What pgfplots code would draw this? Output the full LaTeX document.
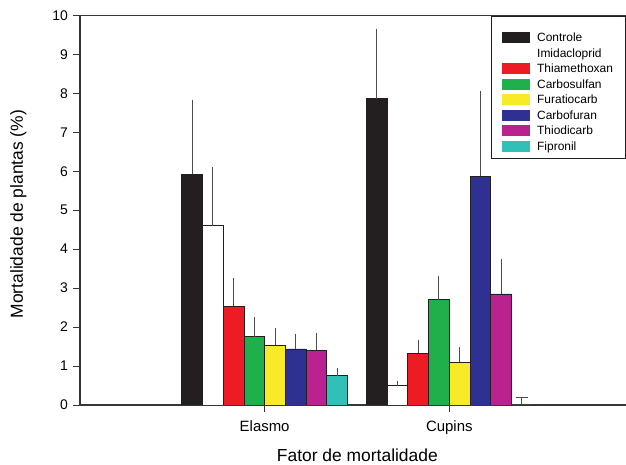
\documentclass[border=0pt]{standalone}
\usepackage{fontspec}
\setmainfont{Liberation Sans}
\usepackage{pgfplots}
\pgfplotsset{compat=1.18}
\definecolor{cblack}{HTML}{231F20}
\definecolor{cred}{HTML}{ED1C24}
\definecolor{cgreen}{HTML}{20B04B}
\definecolor{cyellow}{HTML}{F8EA27}
\definecolor{cblue}{HTML}{2E3192}
\definecolor{cmag}{HTML}{B9228F}
\definecolor{cteal}{HTML}{30C0B7}
\begin{document}
\begin{tikzpicture}
\path[use as bounding box] (0,0) rectangle (626bp,465bp);
\begin{axis}[
  at={(80bp,60bp)}, anchor=south west,
  width=546bp, height=389.5bp, scale only axis,
  xmin=0, xmax=2.957, ymin=0, ymax=10,
  axis x line=box, axis y line=left,
  axis line style={-, line width=1.3bp, color=cblack!90},
  xtick={1,2}, xticklabels={Elasmo,Cupins},
  ytick={0,1,...,10},
  xtick pos=left, ytick pos=left,
  tick align=outside, major tick length=7bp,
  tick style={line width=0.8bp, color=cblack!90},
  minor tick num=0,
  /pgf/number format/assume math mode=true,
  yticklabel style={font=\fontsize{14}{16}\selectfont, inner sep=0pt, xshift=-5bp},
  xticklabel style={font=\fontsize{15}{17}\selectfont, inner sep=0pt, yshift=-8bp},
  xlabel={Fator de mortalidade},
  ylabel={Mortalidade de plantas (\%)},
  xlabel style={font=\fontsize{17.5}{20}\selectfont, at={(axis description cs:0.508,-0.129)}, anchor=center},
  ylabel style={font=\fontsize{17.5}{20}\selectfont, at={(axis description cs:-0.113,0.49)}, anchor=center},
  error bars/y dir=plus, error bars/y explicit, error bars/error mark=none,
  error bars/error bar style={line width=0.9bp, color=cblack!80},
  legend image code/.code={\fill[#1, draw=none] (0bp,-5.5bp) rectangle (28bp,5.5bp);},
  legend cell align=left,
  legend style={draw=none, fill=none, at={(axis description cs:0.7723,0.9597)}, anchor=north west,
    inner sep=0pt, row sep=2.5bp, column sep=7.3bp,
    nodes={inner sep=0pt, text height=10.5bp, text depth=2.5bp},
    font=\fontsize{12}{14}\selectfont},
  every axis plot/.append style={ybar, bar width=0.1122, bar shift=0pt, draw=cblack, line width=0.8bp},
]
\addplot[fill=cblack, draw=cblack] coordinates {(0.6073,5.93) +- (0,1.91) (1.6073,7.86) +- (0,1.80)};
\addlegendentry{Controle}
\addplot[fill=white, draw=cblack] coordinates {(0.7195,4.60) +- (0,1.50) (1.7195,0.50) +- (0,0.12)};
\addlegendentry{Imidacloprid}
\addplot[fill=cred, draw=cblack] coordinates {(0.8317,2.53) +- (0,0.73) (1.8317,1.33) +- (0,0.34)};
\addlegendentry{Thiamethoxan}
\addplot[fill=cgreen, draw=cblack] coordinates {(0.9439,1.75) +- (0,0.52) (1.9439,2.70) +- (0,0.62)};
\addlegendentry{Carbosulfan}
\addplot[fill=cyellow, draw=cblack] coordinates {(1.0561,1.53) +- (0,0.45) (2.0561,1.10) +- (0,0.38)};
\addlegendentry{Furatiocarb}
\addplot[fill=cblue, draw=cblack] coordinates {(1.1683,1.44) +- (0,0.39) (2.1683,5.87) +- (0,2.18)};
\addlegendentry{Carbofuran}
\addplot[fill=cmag, draw=cblack] coordinates {(1.2805,1.41) +- (0,0.44) (2.2805,2.85) +- (0,0.90)};
\addlegendentry{Thiodicarb}
\addplot[fill=cteal, draw=cblack] coordinates {(1.3927,0.75) +- (0,0.20)};
\addlegendentry{Fipronil}
\addplot[fill=cteal, draw=cblack, forget plot, error bars/error mark=|, error bars/error mark options={mark size=6bp, line width=0.9bp, color=cblack!80}] coordinates {(2.3927,0.00) +- (0,0.19)};
\draw[line width=0.8bp, color=cblack] (axis description cs:0.754,0.9969) rectangle (axis description cs:0.9995,0.634);
\end{axis}
\end{tikzpicture}
\end{document}
